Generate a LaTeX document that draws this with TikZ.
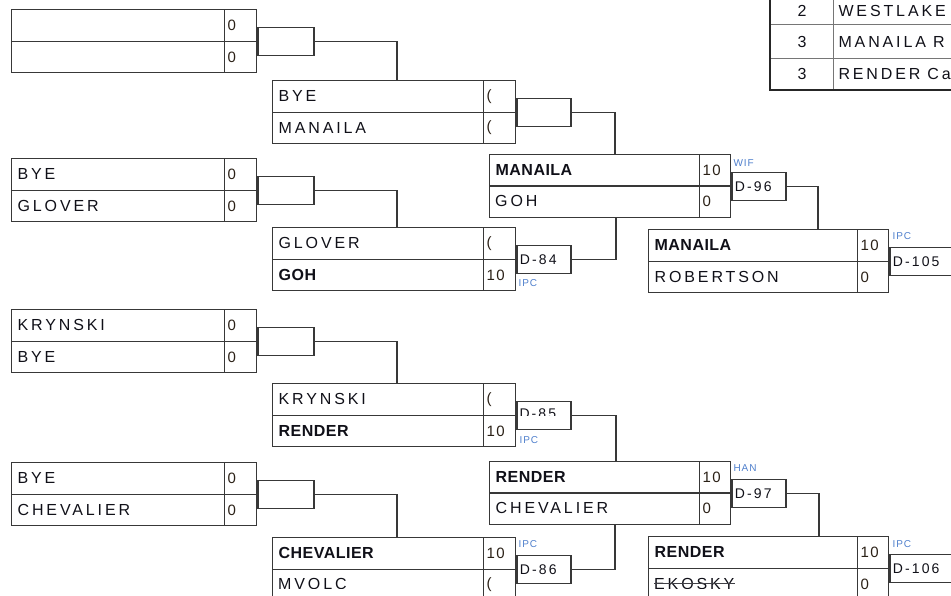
\documentclass[tikz,border=0pt]{standalone}
\usepackage{fontspec}
\setmainfont{Liberation Sans}
\newfontfamily\regname{Liberation Sans}[LetterSpace=18]
\newfontfamily\boldname{Liberation Sans}[LetterSpace=3]
\newfontfamily\scorefont{Liberation Sans}[LetterSpace=10]
\newfontfamily\dfont{Liberation Sans}[LetterSpace=15]
\newfontfamily\tagfont{Liberation Sans}[LetterSpace=10]
\definecolor{linec}{HTML}{383838}
\definecolor{txt}{HTML}{101018}
\definecolor{sctxt}{HTML}{2A2016}
\definecolor{lbl}{HTML}{4F7FCC}
\definecolor{tline}{HTML}{767676}
\begin{document}
\begin{tikzpicture}[x=1pt,y=-1pt,
  mcell/.style={draw=linec, line width=1.3pt, rectangle, anchor=north west, minimum height=31.5pt, inner ysep=0pt, align=left, text=txt},
  nm/.style={mcell, inner xsep=6pt, font=\regname\fontsize{16}{19}\selectfont},
  bnm/.style={nm, font=\boldname\fontsize{16}{19}\selectfont\bfseries},
  w1/.style={text width=201pt}, w2/.style={text width=199pt},
  w3/.style={text width=198pt}, w4/.style={text width=197pt},
  sc/.style={mcell, inner xsep=3pt, text width=26pt, text=sctxt, font=\scorefont\fontsize{15}{17}\selectfont},
  sct/.style={sc, text width=25pt},
  bracket/.style={draw=linec, line width=1.3pt, rectangle, anchor=west, minimum width=54pt, minimum height=28pt, inner sep=0pt},
  dbox/.style={bracket, inner xsep=3pt, text width=48pt, align=left, text=txt, font=\dfont\fontsize{14}{16}\selectfont},
  mytag/.style={font=\tagfont\fontsize{10}{11}\selectfont, text=lbl, inner sep=0pt, anchor=west},
  clipname/.style={anchor=west, inner sep=0pt, text=txt, font=\regname\fontsize{16}{19}\selectfont},
  conn/.style={draw=linec, line width=1.3pt},
  tcell/.style={draw=tline, line width=1pt, rectangle, anchor=north west, inner ysep=0pt, text=txt, font=\regname\fontsize{16}{19}\selectfont},
]
\useasboundingbox (0,0) rectangle (951,595);
\clip (0,0) rectangle (951,595);

% ---------- Round 1 ----------
\node[nm,w1] (a1t) at (11,9) {};
\node[sc] (a1ts) at (224,9) {0};
\node[nm,w1] (a1b) at (11,40.5) {};
\node[sc] (a1bs) at (224,40.5) {0};

\node[nm,w1] (a2t) at (11,158) {BYE};
\node[sc] (a2ts) at (224,158) {0};
\node[nm,w1] (a2b) at (11,189.5) {GLOVER};
\node[sc] (a2bs) at (224,189.5) {0};

\node[nm,w1] (a3t) at (11,309) {KRYNSKI};
\node[sc] (a3ts) at (224,309) {0};
\node[nm,w1] (a3b) at (11,340.5) {BYE};
\node[sc] (a3bs) at (224,340.5) {0};

\node[nm,w1] (a4t) at (11,462) {BYE};
\node[sc] (a4ts) at (224,462) {0};
\node[nm,w1] (a4b) at (11,493.5) {CHEVALIER};
\node[sc] (a4bs) at (224,493.5) {0};

\node[bracket, minimum width=56pt] (k1) at (a1ts.south east) {};
\node[bracket, minimum width=56pt] (k2) at (a2ts.south east) {};
\node[bracket, minimum width=56pt] (k3) at (a3ts.south east) {};
\node[bracket, minimum width=56pt] (k4) at (a4ts.south east) {};

% ---------- Round 2 ----------
\node[nm,w2] (b1t) at (272,80) {BYE};
\node[sc] (b1ts) at (483,80) {(};
\node[nm,w2] (b1b) at (272,111.5) {MANAILA};
\node[sc] (b1bs) at (483,111.5) {(};

\node[nm,w2] (b2t) at (272,227) {GLOVER};
\node[sc] (b2ts) at (483,227) {(};
\node[bnm,w2] (b2b) at (272,258.5) {GOH};
\node[sc] (b2bs) at (483,258.5) {10};

\node[nm,w2] (b3t) at (272,383) {KRYNSKI};
\node[sc] (b3ts) at (483,383) {(};
\node[bnm,w2] (b3b) at (272,414.5) {RENDER};
\node[sc] (b3bs) at (483,414.5) {10};

\node[bnm,w2] (b4t) at (272,537) {CHEVALIER};
\node[sc] (b4ts) at (483,537) {10};
\node[nm,w2] (b4b) at (272,568.5) {};
\node[sc] (b4bs) at (483,568.5) {(};
\begin{scope}
  \clip (272,568.5) rectangle (483,588);
  \node[clipname] (b4bt) at ([xshift=6pt,yshift=1pt]b4b.west) {MVOLC};
\end{scope}

\draw[conn] (k1.east) -| ([xshift=125pt]b1t.north west);
\draw[conn] (k2.east) -| ([xshift=125pt]b2t.north west);
\draw[conn] (k3.east) -| ([xshift=125pt]b3t.north west);
\draw[conn] (k4.east) -| ([xshift=125pt]b4t.north west);

\node[bracket] (k5) at (b1ts.south east) {};
\node[dbox] (d84) at (b2ts.south east) {D-84};
\node[dbox] (d85) at (b3ts.south east) {};
\begin{scope}
  \clip (516,399) rectangle (569,415.5);
  \node[anchor=west, inner sep=0pt, text=txt, font=\dfont\fontsize{14}{16}\selectfont] (d85t) at ([xshift=3pt,yshift=2.5pt]d85.west) {D-85};
\end{scope}
\node[dbox] (d86) at (b4ts.south east) {D-86};

\node[mytag] (t84) at ([xshift=2pt,yshift=-9pt]d84.south west) {IPC};
\node[mytag] (t85) at ([xshift=3pt,yshift=-9.5pt]d85.south west) {IPC};
\node[mytag] (t86) at ([xshift=2pt,yshift=11.5pt]d86.north west) {IPC};

% ---------- Round 3 ----------
\node[bnm,w3] (c1t) at (489,154) {MANAILA};
\node[sct] (c1ts) at (699,154) {10};
\node[nm,w3] (c1b) at (489,185) {};
\node[sct] (c1bs) at (699,185) {0};
\begin{scope}
  \clip (489,185) rectangle (699,206);
  \node[clipname] (c1bt) at ([xshift=6pt]c1b.west) {GOH};
\end{scope}

\node[bnm,w3] (c2t) at (489,461) {RENDER};
\node[sct] (c2ts) at (699,461) {10};
\node[nm,w3] (c2b) at (489,492) {CHEVALIER};
\node[sct] (c2bs) at (699,492) {0};

\draw[conn] (k5.east) -| ([xshift=126pt]c1t.north west);
\draw[conn] (d84.east) -| ([xshift=127pt]c1b.south west);
\draw[conn] (d85.east) -| ([xshift=127pt]c2t.north west);
\draw[conn] (d86.east) -| ([xshift=126pt]c2b.south west);

\node[dbox] (d96) at (c1ts.south east) {D-96};
\node[dbox] (d97) at (c2ts.south east) {D-97};
\node[mytag] (t96) at ([xshift=2pt,yshift=9pt]d96.north west) {WIF};
\node[mytag] (t97) at ([xshift=2pt,yshift=11pt]d97.north west) {HAN};

% ---------- Round 4 ----------
\node[bnm,w4] (e1t) at (648,229) {MANAILA};
\node[sct] (e1ts) at (857,229) {10};
\node[nm,w4] (e1b) at (648,260.5) {ROBERTSON};
\node[sct] (e1bs) at (857,260.5) {0};

\node[bnm,w4] (e2t) at (648,536) {RENDER};
\node[sct] (e2ts) at (857,536) {10};
\node[nm,w4] (e2b) at (648,567.5) {};
\node[sct] (e2bs) at (857,567.5) {0};
\begin{scope}
  \clip (648,567.5) rectangle (857,588.5);
  \node[clipname] (e2bt) at ([xshift=6pt]e2b.west) {EKOSKY};
  \draw[draw=txt!80, line width=1pt] (e2bt.west) -- (e2bt.east);
\end{scope}

\draw[conn] (d96.east) -| ([xshift=170pt]e1t.north west);
\draw[conn] (d97.east) -| ([xshift=171pt]e2t.north west);

\node[dbox, minimum width=70pt, text width=64pt] (d105) at (e1ts.south east) {D-105};
\node[dbox, minimum width=70pt, text width=64pt] (d106) at (e2ts.south east) {D-106};
\node[mytag] (t105) at ([xshift=3pt,yshift=11pt]d105.north west) {IPC};
\node[mytag] (t106) at ([xshift=3pt,yshift=10.5pt]d106.north west) {IPC};

% ---------- Standings table ----------
\node[tcell, minimum height=28pt, text width=57pt, inner xsep=3pt, align=center] (tn1) at (770,-4) {2};
\node[tcell, minimum height=28pt, text width=194pt, inner xsep=5pt, align=left] (tm1) at (833,-4) {WESTLAKE};
\node[tcell, minimum height=34pt, text width=57pt, inner xsep=3pt, align=center] (tn2) at (770,24) {3};
\node[tcell, minimum height=34pt, text width=194pt, inner xsep=5pt, align=left] (tm2) at (833,24) {MANAILA\hspace{7pt}R};
\node[tcell, minimum height=31pt, text width=57pt, inner xsep=3pt, align=center] (tn3) at (770,58) {3};
\node[tcell, minimum height=31pt, text width=194pt, inner xsep=5pt, align=left] (tm3) at (833,58) {RENDER\hspace{7pt}Ca};
\draw[line width=2pt, draw=black!85] (tn1.north west) -- (tn3.south west) -- (tm3.south east);
\end{tikzpicture}
\end{document}
